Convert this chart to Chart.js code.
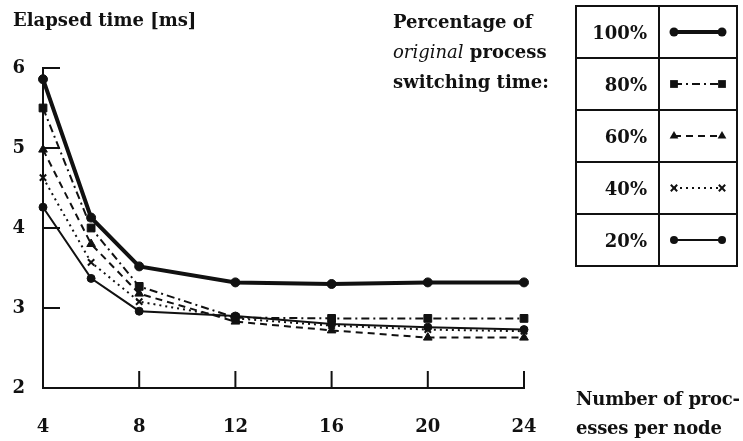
<!DOCTYPE html>
<html>
<head>
<meta charset="utf-8">
<script src="https://cdn.jsdelivr.net/npm/chart.js@4/dist/chart.umd.min.js"></script>
<style>
  html, body { margin: 0; padding: 0; background: #fff; }
  #wrap { position: relative; width: 743px; height: 441px; overflow: hidden;
          font-family: 'DejaVu Serif', serif; color: #111; }
  #chart { position: absolute; left: 0; top: 0; }
  .txt { position: absolute; font-size: 18px; font-weight: bold; line-height: 30px; white-space: pre; }
  .txt i { font-weight: normal; }
  #legend { position: absolute; left: 575px; top: 5px; border-collapse: collapse; }
  #legend td { border: 2px solid #111; padding: 0; height: 50px; }
  #legend td.lab { width: 70px; padding-right: 11px; text-align: right; font-size: 18px; font-weight: bold; }
  #legend td.sym { width: 76px; text-align: center; }
  #legend canvas { display: block; margin: 0 auto; }
</style>
</head>
<body>
<div id="wrap">
  <canvas id="chart" width="743" height="441"></canvas>
  <div class="txt" style="left:13px;top:5px;">Elapsed time [ms]</div>
  <div class="txt" style="left:393px;top:7px;">Percentage of
<i>original</i> process
switching time:</div>
  <div class="txt" style="left:576px;top:384px;line-height:29px;letter-spacing:-0.2px;">Number of proc-
esses per node</div>
  <table id="legend"></table>
</div>
<script>
// Number of processes per node (x) and elapsed time in ms for each
// percentage of the original process switching time.
const processCounts = [4, 6, 8, 12, 16, 20, 24];
const xTickValues = [4, 8, 12, 16, 20, 24];
const yTickValues = [2, 3, 4, 5, 6];
const seriesLabels = ['100%', '80%', '60%', '40%', '20%'];

const time100 = [5.86, 4.13, 3.52, 3.32, 3.30, 3.32, 3.32];
const time80  = [5.50, 4.00, 3.27, 2.88, 2.87, 2.87, 2.87];
const time60  = [4.98, 3.80, 3.18, 2.83, 2.72, 2.63, 2.63];
const time40  = [4.63, 3.57, 3.08, 2.87, 2.78, 2.73, 2.71];
const time20  = [4.26, 3.37, 2.96, 2.90, 2.80, 2.76, 2.73];

const INK = '#111';
const FONT = "'DejaVu Serif', serif";

const styles = [
  { width: 4, dash: [],           point: 'circle',   radius: 4.5 },
  { width: 2, dash: [8, 4, 2, 4], point: 'rect',     radius: 5.5 },
  { width: 2, dash: [7, 5],       point: 'triangle', radius: 5 },
  { width: 2, dash: [2, 4],       point: 'crossRot', radius: 4.5 },
  { width: 2, dash: [],           point: 'circle',   radius: 4 }
];
const seriesValues = [time100, time80, time60, time40, time20];

const datasets = seriesValues.map((vals, i) => ({
  label: seriesLabels[i],
  data: processCounts.map((x, j) => ({ x: x, y: vals[j] })),
  borderColor: INK,
  backgroundColor: INK,
  borderWidth: styles[i].width,
  borderDash: styles[i].dash,
  pointStyle: styles[i].point,
  pointRadius: styles[i].radius,
  pointBorderWidth: styles[i].point === 'crossRot' ? 2 : 1,
  pointBackgroundColor: INK,
  pointBorderColor: INK,
  tension: 0,
  clip: false
}));

// Short tick marks pointing into the plot area.
const inwardTicks = {
  id: 'inwardTicks',
  afterDatasetsDraw(chart) {
    const { ctx, chartArea: a, scales: { x, y } } = chart;
    ctx.save();
    ctx.strokeStyle = INK;
    ctx.lineWidth = 2;
    ctx.setLineDash([]);
    y.ticks.forEach(t => {
      if (t.value === y.min) return;
      const py = y.getPixelForValue(t.value);
      ctx.beginPath(); ctx.moveTo(a.left, py); ctx.lineTo(a.left + 17, py); ctx.stroke();
    });
    x.ticks.forEach(t => {
      if (t.value === x.min) return;
      const px = x.getPixelForValue(t.value);
      ctx.beginPath(); ctx.moveTo(px, a.bottom); ctx.lineTo(px, a.bottom - 17); ctx.stroke();
    });
    ctx.restore();
  }
};

function drawMarker(ctx, style, r, cx, cy) {
  ctx.beginPath();
  if (style === 'circle') {
    ctx.arc(cx, cy, r, 0, Math.PI * 2); ctx.fill();
  } else if (style === 'rect') {
    const s = r * Math.SQRT1_2;
    ctx.fillRect(cx - s, cy - s, 2 * s, 2 * s);
  } else if (style === 'triangle') {
    ctx.moveTo(cx, cy - r);
    ctx.lineTo(cx + r * 0.87, cy + r * 0.5);
    ctx.lineTo(cx - r * 0.87, cy + r * 0.5);
    ctx.closePath(); ctx.fill();
  } else if (style === 'crossRot') {
    const s = r * Math.SQRT1_2;
    ctx.lineWidth = 2; ctx.setLineDash([]);
    ctx.moveTo(cx - s, cy - s); ctx.lineTo(cx + s, cy + s);
    ctx.moveTo(cx + s, cy - s); ctx.lineTo(cx - s, cy + s);
    ctx.stroke();
  }
}

// Legend table built from the datasets' own line and point styles.
const tableLegend = {
  id: 'tableLegend',
  afterInit(chart) {
    const table = document.getElementById('legend');
    table.innerHTML = '';
    chart.data.datasets.forEach(ds => {
      const tr = document.createElement('tr');
      const lab = document.createElement('td');
      lab.className = 'lab';
      lab.textContent = ds.label;
      const sym = document.createElement('td');
      sym.className = 'sym';
      const c = document.createElement('canvas');
      c.width = 60; c.height = 20;
      const g = c.getContext('2d');
      g.strokeStyle = INK; g.fillStyle = INK;
      g.lineWidth = ds.borderWidth;
      g.setLineDash(ds.borderDash);
      g.beginPath(); g.moveTo(6, 10); g.lineTo(54, 10); g.stroke();
      g.setLineDash([]);
      drawMarker(g, ds.pointStyle, ds.pointRadius, 6, 10);
      drawMarker(g, ds.pointStyle, ds.pointRadius, 54, 10);
      sym.appendChild(c);
      tr.appendChild(lab); tr.appendChild(sym);
      table.appendChild(tr);
    });
  }
};

new Chart(document.getElementById('chart'), {
  type: 'line',
  data: { datasets: datasets },
  options: {
    responsive: false,
    animation: false,
    layout: { padding: { left: 0, top: 68, right: 219, bottom: 0 } },
    plugins: { legend: { display: false }, tooltip: { enabled: false } },
    scales: {
      x: {
        type: 'linear',
        min: 4, max: 24,
        afterBuildTicks: s => { s.ticks = xTickValues.map(v => ({ value: v })); },
        afterFit: s => { s.height = 53; },
        grid: { display: false, drawTicks: false },
        border: { display: true, color: INK, width: 2 },
        ticks: { color: INK, padding: 29, font: { family: FONT, size: 18, weight: 'bold' } }
      },
      y: {
        min: 2, max: 6,
        afterBuildTicks: s => { s.ticks = yTickValues.map(v => ({ value: v })); },
        afterFit: s => { s.width = 43; },
        grid: { display: false, drawTicks: false },
        border: { display: true, color: INK, width: 2 },
        ticks: { color: INK, padding: 18, font: { family: FONT, size: 18, weight: 'bold' } }
      }
    }
  },
  plugins: [inwardTicks, tableLegend]
});
</script>
</body>
</html>
